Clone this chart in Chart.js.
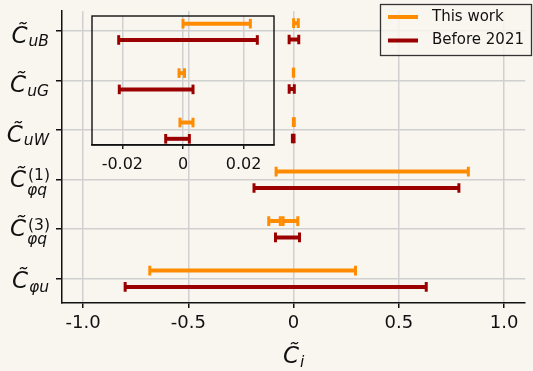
<!DOCTYPE html>
<html>
<head>
<meta charset="utf-8">
<script src="https://cdn.jsdelivr.net/npm/chart.js@4.4.1/dist/chart.umd.min.js"></script>
<style>
  html, body { margin: 0; padding: 0; background: #f9f6f0; }
  #wrap { position: relative; width: 533px; height: 371px; }
  #mainChart { position: absolute; left: 0; top: 0; }
  #insetChart { position: absolute; left: 82px; top: 0; }
</style>
</head>
<body>
<div id="wrap">
  <canvas id="mainChart" width="533" height="371"></canvas>
  <canvas id="insetChart" width="200" height="185"></canvas>
</div>
<script>
// coefficient names (C-tilde with subscript / superscript)
const labelSubs = ['uB', 'uG', 'uW', 'φq', 'φq', 'φu'];
const labelSups = ['', '', '', '(1)', '(3)', ''];

// 95% intervals, one list of [low, high] per coefficient
const thisWork = [
  [[0.000, 0.0222]],
  [[-0.0013, 0.0005]],
  [[-0.0010, 0.0033]],
  [[-0.083, 0.830]],
  [[-0.118, -0.063], [-0.050, 0.020]],
  [[-0.683, 0.294]]
];
const before2021 = [
  [[-0.0212, 0.0245]],
  [[-0.0210, 0.0033]],
  [[-0.0057, 0.0021]],
  [[-0.188, 0.785]],
  [[-0.086, 0.028]],
  [[-0.800, 0.630]]
];

const seriesNames = ['This work', 'Before 2021'];
const xTicks = [-1.0, -0.5, 0, 0.5, 1.0];
const xTickLabels = ['-1.0', '-0.5', '0', '0.5', '1.0'];
const insetTicks = [-0.02, 0, 0.02];
const insetTickLabels = ['-0.02', '0', '0.02'];
const insetRows = 3; // first three coefficients are zoomed in the inset

const ORANGE = '#ff8c00';
const DARKRED = '#9b0000';
const TEXT = '#111111';
const GRID = '#d0d0d0';
const BG = '#f9f6f0';

function makeDatasets(intervals, color, offset, name) {
  const out = [];
  intervals.forEach((list, i) => {
    list.forEach(([lo, hi], j) => {
      out.push({
        label: (i === 0 && j === 0) ? name : '',
        data: [{ x: lo, y: i + offset }, { x: hi, y: i + offset }],
        showLine: true,
        borderColor: color,
        backgroundColor: color,
        borderWidth: 4,
        borderCapStyle: 'butt',
        pointStyle: 'line',
        pointRotation: 90,
        pointRadius: 4.8,
        pointHoverRadius: 4.8,
        pointBorderWidth: 3,
        pointBorderColor: color
      });
    });
  });
  return out;
}

function drawMathLabel(ctx, x, baseY, sub, sup, big, small, align) {
  ctx.save();
  ctx.fillStyle = TEXT;
  ctx.textBaseline = 'alphabetic';
  ctx.textAlign = 'left';
  ctx.font = 'italic ' + big + 'px "DejaVu Sans"';
  const wC = ctx.measureText('C').width;
  ctx.font = 'italic ' + small + 'px "DejaVu Sans"';
  const wSub = ctx.measureText(sub).width;
  ctx.font = small + 'px "DejaVu Sans"';
  const wSup = sup ? ctx.measureText(sup).width : 0;
  const total = wC + 1 + Math.max(wSub, wSup);
  const x0 = align === 'center' ? x - total / 2 : x - total;

  ctx.font = 'italic ' + big + 'px "DejaVu Sans"';
  ctx.fillText('C\u0303', x0, baseY);
  ctx.font = 'italic ' + small + 'px "DejaVu Sans"';
  ctx.fillText(sub, x0 + wC + 1, baseY + (sup ? 8 : 3.5));
  if (sup) {
    ctx.font = small + 'px "DejaVu Sans"';
    ctx.fillText(sup, x0 + wC + 2, baseY - 6.5);
  }
  ctx.restore();
}

const backgroundPlugin = {
  id: 'background',
  beforeDraw(chart) {
    const ctx = chart.ctx;
    ctx.save();
    ctx.fillStyle = BG;
    ctx.fillRect(0, 0, chart.width, chart.height);
    ctx.restore();
  }
};

const labelsPlugin = {
  id: 'mathLabels',
  afterDraw(chart) {
    const ctx = chart.ctx;
    const y = chart.scales.y;
    labelSubs.forEach((sub, i) => {
      const py = y.getPixelForValue(i);
      let base = py + 12;
      if (labelSups[i]) base = py + 7.5;
      else if (sub.startsWith('φ')) base = py + 10;
      drawMathLabel(ctx, 49, base, sub, labelSups[i], 23, 15.5, 'right');
    });
    // axis title
    const cx = (chart.chartArea.left + chart.chartArea.right) / 2;
    drawMathLabel(ctx, cx, 363, 'i', '', 23, 15.5, 'center');
  }
};

const legendPlugin = {
  id: 'boxLegend',
  afterDraw(chart) {
    const ctx = chart.ctx;
    ctx.save();
    ctx.fillStyle = 'rgba(249,246,240,0.8)';
    ctx.fillRect(380.5, 4.5, 151, 51);
    ctx.strokeStyle = '#333';
    ctx.lineWidth = 1.3;
    ctx.strokeRect(380.5, 4.5, 151, 51);
    const colors = [ORANGE, DARKRED];
    const rows = [17, 40.5];
    ctx.font = '15px "DejaVu Sans"';
    ctx.textBaseline = 'middle';
    ctx.textAlign = 'left';
    seriesNames.forEach((name, i) => {
      ctx.strokeStyle = colors[i];
      ctx.lineWidth = 4;
      ctx.beginPath();
      ctx.moveTo(388, rows[i]);
      ctx.lineTo(418, rows[i]);
      ctx.stroke();
      ctx.fillStyle = TEXT;
      ctx.fillText(name, 432, rows[i]);
    });
    ctx.restore();
  }
};

const insetFramePlugin = {
  id: 'insetFrame',
  afterDraw(chart) {
    const a = chart.chartArea;
    const ctx = chart.ctx;
    ctx.save();
    ctx.strokeStyle = TEXT;
    ctx.lineWidth = 1.4;
    ctx.strokeRect(a.left, a.top, a.right - a.left, a.bottom - a.top);
    ctx.restore();
  }
};

new Chart(document.getElementById('mainChart'), {
  type: 'scatter',
  data: {
    datasets: [
      ...makeDatasets(thisWork, ORANGE, -0.155, seriesNames[0]),
      ...makeDatasets(before2021, DARKRED, 0.175, seriesNames[1])
    ]
  },
  options: {
    responsive: false,
    animation: false,
    layout: { padding: { top: 11, right: 1, left: 0, bottom: 0 } },
    plugins: { legend: { display: false }, tooltip: { enabled: false } },
    scales: {
      x: {
        type: 'linear', min: -1.1, max: 1.1,
        afterBuildTicks: s => { s.ticks = xTicks.map(v => ({ value: v })); },
        afterFit: s => { s.height = 68; },
        ticks: {
          callback: (v, i) => xTickLabels[i],
          font: { family: 'DejaVu Sans', size: 18 },
          color: TEXT, padding: 5, maxRotation: 0
        },
        grid: { color: GRID, lineWidth: 1.5, tickColor: TEXT, tickLength: 5, tickWidth: 1.5 },
        border: { color: TEXT, width: 1.5 }
      },
      y: {
        type: 'linear', reverse: true, min: -0.4, max: 5.5,
        afterBuildTicks: s => { s.ticks = labelSubs.map((c, i) => ({ value: i })); },
        afterFit: s => { s.width = 62; },
        ticks: { callback: () => '' },
        grid: { color: GRID, lineWidth: 1.5, tickColor: TEXT, tickLength: 6, tickWidth: 1.5 },
        border: { color: TEXT, width: 1.5 }
      }
    }
  },
  plugins: [backgroundPlugin, labelsPlugin, legendPlugin]
});

new Chart(document.getElementById('insetChart'), {
  type: 'scatter',
  data: {
    datasets: [
      ...makeDatasets(thisWork.slice(0, insetRows), ORANGE, -0.155, seriesNames[0]),
      ...makeDatasets(before2021.slice(0, insetRows), DARKRED, 0.175, seriesNames[1])
    ]
  },
  options: {
    responsive: false,
    animation: false,
    layout: { padding: { top: 16, right: 8, left: 10, bottom: 0 } },
    plugins: { legend: { display: false }, tooltip: { enabled: false } },
    scales: {
      x: {
        type: 'linear', min: -0.03, max: 0.03,
        afterBuildTicks: s => { s.ticks = insetTicks.map(v => ({ value: v })); },
        afterFit: s => { s.height = 40; },
        ticks: {
          callback: (v, i) => insetTickLabels[i],
          font: { family: 'DejaVu Sans', size: 16 },
          color: TEXT, padding: 6, maxRotation: 0
        },
        grid: { color: GRID, lineWidth: 1.5, tickColor: TEXT, tickLength: 4, tickWidth: 1.4 },
        border: { color: TEXT, width: 1.4 }
      },
      y: {
        type: 'linear', reverse: true, min: -0.31, max: 2.3, display: false
      }
    }
  },
  plugins: [insetFramePlugin]
});
</script>
</body>
</html>
